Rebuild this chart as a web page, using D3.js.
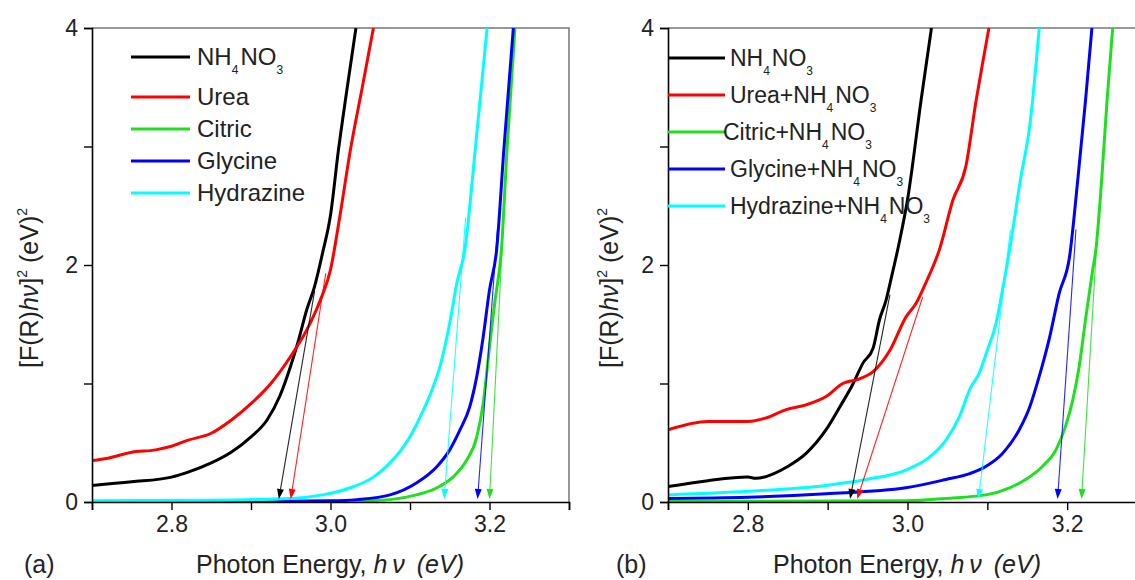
<!DOCTYPE html>
<html><head><meta charset="utf-8">
<script src="https://cdn.jsdelivr.net/npm/d3@7"></script>
<style>
body{margin:0;background:#fff}
svg{display:block;font-family:"Liberation Sans",Arial,sans-serif}
</style>
</head><body>
<svg id="c" width="1135" height="580"></svg>
<script>
// ---------- axis ticks ----------
const energyTicks = [2.7, 2.8, 2.9, 3.0, 3.1, 3.2, 3.3];
const energyLabels = {"2.8": "2.8", "3": "3.0", "3.2": "3.2"};
const valueTicks = [0, 1, 2, 3, 4];
const valueLabels = {"0": "0", "2": "2", "4": "4"};

// ---------- series names / colours ----------
const namesA = ["NH4NO3", "Urea", "Citric", "Glycine", "Hydrazine"];
const namesB = ["NH4NO3", "Urea+NH4NO3", "Citric+NH4NO3", "Glycine+NH4NO3", "Hydrazine+NH4NO3"];
const colors = ["#000000", "#ff0000", "#1ee01e", "#0000ff", "#00ffff"];

// ---------- panel (a) curves [energy, value] ----------
const aNH4NO3 = [[2.70,0.14],[2.75,0.17],[2.80,0.21],[2.82,0.25],[2.85,0.33],[2.875,0.42],[2.90,0.55],[2.92,0.69],[2.936,0.89],[2.95,1.15],[2.96,1.37],[2.97,1.62],[2.98,1.82],[2.99,2.10],[3.00,2.42],[3.01,2.97],[3.02,3.45],[3.032,4.0]];
const aUrea = [[2.70,0.35],[2.72,0.37],[2.75,0.42],[2.78,0.44],[2.80,0.47],[2.82,0.52],[2.85,0.58],[2.875,0.69],[2.90,0.83],[2.925,1.0],[2.95,1.23],[2.97,1.45],[2.987,1.70],[3.00,1.96],[3.012,2.42],[3.025,2.97],[3.04,3.50],[3.054,4.0]];
const aCitric = [[2.70,0.003],[3.00,0.005],[3.041,0.01],[3.075,0.02],[3.108,0.06],[3.134,0.12],[3.154,0.21],[3.171,0.35],[3.184,0.55],[3.192,0.83],[3.196,1.06],[3.20,1.31],[3.207,1.70],[3.215,2.13],[3.222,2.97],[3.232,4.0]];
const aGlycine = [[2.70,0.005],[2.90,0.005],[3.00,0.01],[3.033,0.02],[3.075,0.06],[3.108,0.16],[3.134,0.30],[3.15,0.44],[3.163,0.61],[3.175,0.80],[3.184,1.06],[3.192,1.39],[3.20,1.79],[3.209,2.13],[3.218,2.97],[3.23,4.0]];
const aHydrazine = [[2.70,0.01],[2.85,0.015],[2.95,0.03],[2.99,0.06],[3.025,0.12],[3.054,0.21],[3.075,0.33],[3.10,0.55],[3.113,0.72],[3.125,0.90],[3.138,1.15],[3.15,1.51],[3.159,1.85],[3.169,2.13],[3.182,2.97],[3.197,4.0]];
// tangent arrows [energy at top, value at top, energy at axis]
const aTangents = [[2.98,1.78,2.935],[2.994,1.93,2.95],[3.217,2.3,3.20],[3.21,2.3,3.185],[3.170,2.4,3.143]];

// ---------- panel (b) curves ----------
const bNH4NO3 = [[2.70,0.13],[2.75,0.18],[2.80,0.21],[2.81,0.20],[2.85,0.30],[2.873,0.41],[2.898,0.61],[2.915,0.80],[2.932,1.0],[2.944,1.17],[2.957,1.30],[2.965,1.54],[2.973,1.70],[2.98,1.90],[2.99,2.20],[3.00,2.55],[3.017,3.39],[3.03,4.0]];
const bUrea = [[2.70,0.61],[2.75,0.68],[2.80,0.68],[2.823,0.71],[2.848,0.78],[2.873,0.82],[2.898,0.89],[2.919,1.0],[2.94,1.04],[2.957,1.10],[2.978,1.28],[2.998,1.56],[3.011,1.68],[3.023,1.85],[3.04,2.13],[3.057,2.55],[3.073,2.83],[3.086,3.39],[3.094,3.70],[3.102,4.0]];
const bCitric = [[2.70,0.005],[2.998,0.01],[3.048,0.03],[3.098,0.06],[3.128,0.12],[3.148,0.19],[3.169,0.30],[3.186,0.44],[3.198,0.64],[3.207,0.86],[3.215,1.14],[3.223,1.54],[3.232,1.96],[3.236,2.13],[3.243,2.7],[3.25,3.39],[3.257,4.0]];
const bGlycine = [[2.70,0.03],[2.80,0.04],[2.898,0.07],[2.998,0.12],[3.048,0.19],[3.078,0.24],[3.098,0.30],[3.119,0.41],[3.14,0.61],[3.153,0.80],[3.165,1.06],[3.178,1.39],[3.19,1.76],[3.203,2.07],[3.213,2.7],[3.223,3.39],[3.231,4.0]];
const bHydrazine = [[2.70,0.06],[2.80,0.09],[2.898,0.14],[2.948,0.19],[2.998,0.27],[3.028,0.38],[3.048,0.52],[3.065,0.72],[3.078,0.95],[3.09,1.09],[3.10,1.28],[3.111,1.51],[3.119,1.79],[3.128,2.13],[3.141,2.7],[3.154,3.22],[3.165,4.0]];
const bTangents = [[2.978,1.75,2.928],[3.019,1.73,2.937],[3.238,2.3,3.218],[3.211,2.3,3.188],[3.129,2.3,3.089]];

const svg = d3.select("#c");
const y = d3.scaleLinear().domain([0, 4]).range([502, 28]);

function richText(sel, str, subSize, subDy) {
  // digits become subscripts
  const parts = str.match(/(\d+|[^\d]+)/g);
  parts.forEach(p => {
    if (/^\d+$/.test(p)) {
      sel.append("tspan").attr("font-size", subSize).attr("dy", subDy).text(p);
      sel.append("tspan").attr("dy", -subDy).text("\u200A");
    } else {
      sel.append("tspan").text(p);
    }
  });
}

function panel(opt) {
  const x = d3.scaleLinear().domain([2.7, 3.3]).range(opt.xr);
  const g = svg.append("g");
  const clipId = "clip" + opt.id;
  svg.append("clipPath").attr("id", clipId).append("rect")
    .attr("x", opt.xr[0]).attr("y", 28).attr("width", opt.xr[1] - opt.xr[0]).attr("height", 474);

  // frame (top, right)
  g.append("path").attr("d", `M${opt.xr[0]},28H${opt.xr[1]}V502`)
    .attr("fill", "none").attr("stroke", "#777").attr("stroke-width", 1.5);

  const line = d3.line().x(d => x(d[0])).y(d => y(d[1])).curve(d3.curveMonotoneX);
  const plot = g.append("g").attr("clip-path", `url(#${clipId})`);
  opt.order.forEach(i => {
    plot.append("path").datum(opt.series[i]).attr("d", line)
      .attr("fill", "none").attr("stroke", colors[i]).attr("stroke-width", 3)
      .attr("stroke-linejoin", "round");
  });

  // tangent arrows
  opt.tangents.forEach((t, i) => {
    const x1 = x(t[0]), y1 = y(t[1]), x2 = x(t[2]), y2 = y(0) - 3;
    const dx = x2 - x1, dy = y2 - y1, L = Math.hypot(dx, dy);
    const ux = dx / L, uy = dy / L, hl = 10, hw = 3.5;
    const bx = x2 - ux * hl, by = y2 - uy * hl;
    g.append("line").attr("x1", x1).attr("y1", y1).attr("x2", bx).attr("y2", by)
      .attr("stroke", colors[i]).attr("stroke-width", 1.1).attr("opacity", 0.85);
    g.append("path").attr("d", `M${x2},${y2}L${bx - uy * hw},${by + ux * hw}L${bx + uy * hw},${by - ux * hw}Z`)
      .attr("fill", colors[i]);
  });

  // axes
  const xa = d3.axisBottom(x).tickValues(energyTicks).tickSize(8).tickPadding(6)
    .tickFormat(d => energyLabels[String(+d.toFixed(1))] || "");
  const gx = g.append("g").attr("transform", "translate(0,502)").call(xa);
  gx.select(".domain").attr("stroke", "#000").attr("stroke-width", 1.6);
  gx.selectAll(".tick line").attr("stroke", "#000").attr("stroke-width", 1.4);
  gx.selectAll("text").attr("font-size", 23).attr("fill", "#222").attr("font-family", "Liberation Sans, Arial, sans-serif");

  const ya = d3.axisLeft(y).tickValues(valueTicks).tickSize(8).tickPadding(6)
    .tickFormat(d => valueLabels[String(d)] || "");
  const gy = g.append("g").attr("transform", `translate(${opt.xr[0]},0)`).call(ya);
  gy.select(".domain").attr("stroke", "#000").attr("stroke-width", 1.6);
  gy.selectAll(".tick line").attr("stroke", "#000").attr("stroke-width", 1.4);
  gy.selectAll("text").attr("font-size", 23).attr("fill", "#222").attr("font-family", "Liberation Sans, Arial, sans-serif");

  // axis titles
  const xt = g.append("text").attr("x", opt.xTitleX).attr("y", 573).attr("text-anchor", "middle")
    .attr("font-size", 25).attr("fill", "#222");
  xt.append("tspan").text("Photon Energy, ");
  xt.append("tspan").attr("font-style", "italic").text("h\u2009\u03BD\u2009 (eV)");

  const yt = g.append("text").attr("transform", `translate(${opt.yTitleX},288) rotate(-90)`)
    .attr("text-anchor", "middle").attr("font-size", 25).attr("fill", "#222");
  yt.append("tspan").text("[F(R)");
  yt.append("tspan").attr("font-style", "italic").text("h\u03BD");
  yt.append("tspan").text("]");
  yt.append("tspan").attr("font-size", 14).attr("dy", -11).text("2");
  yt.append("tspan").attr("dy", 11).text(" (eV)");
  yt.append("tspan").attr("font-size", 14).attr("dy", -11).text("2");

  g.append("text").attr("x", opt.tagX).attr("y", 573).attr("font-size", 25).attr("fill", "#222").text(opt.tag);

  // legend
  opt.names.forEach((n, i) => {
    const ly = opt.legY[i];
    g.append("line").attr("x1", opt.legX[0]).attr("x2", opt.legX[1]).attr("y1", ly).attr("y2", ly)
      .attr("stroke", colors[i]).attr("stroke-width", 3);
    const t = g.append("text").attr("x", opt.legTextX[i]).attr("y", ly + 8)
      .attr("font-size", opt.legFont).attr("fill", "#222");
    richText(t, n, 12, 9);
  });
}

panel({
  id: "a", xr: [92, 569],
  series: [aNH4NO3, aUrea, aCitric, aGlycine, aHydrazine],
  order: [0, 1, 2, 3, 4],
  tangents: aTangents,
  names: namesA,
  legX: [131, 190], legY: [57, 97, 129, 161, 193], legTextX: [197, 197, 197, 197, 197], legFont: 24,
  xTitleX: 330, yTitleX: 38, tag: "(a)", tagX: 24
});
panel({
  id: "b", xr: [668, 1147],
  series: [bNH4NO3, bUrea, bCitric, bGlycine, bHydrazine],
  order: [0, 1, 4, 3, 2],
  tangents: bTangents,
  names: namesB,
  legX: [668, 725], legY: [58, 95, 132, 169, 206], legTextX: [730, 730, 723, 730, 730], legFont: 23,
  xTitleX: 907, yTitleX: 618, tag: "(b)", tagX: 616
});
</script>
</body></html>
